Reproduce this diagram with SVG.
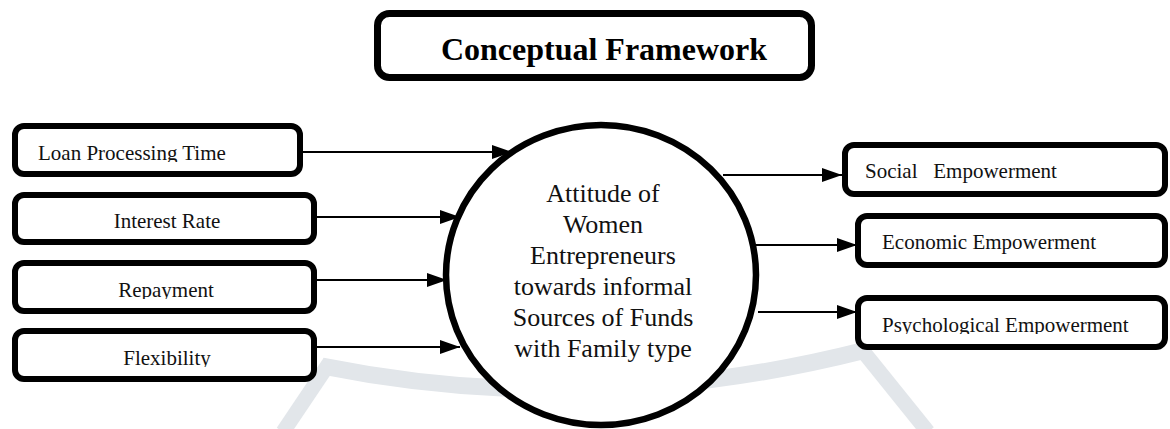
<svg xmlns="http://www.w3.org/2000/svg" width="1170" height="429" viewBox="0 0 1170 429">
  <style>
    .box { fill: #ffffff; stroke: #000000; stroke-width: 6; }
    .lbl { font-family: "Liberation Serif", "Times New Roman", serif; font-size: 21px; fill: #111111; white-space: pre; }
    .core { font-family: "Liberation Serif", "Times New Roman", serif; font-size: 26px; fill: #111111; text-anchor: middle; }
    .title { font-family: "Liberation Serif", "Times New Roman", serif; font-size: 32px; font-weight: bold; fill: #000000; text-anchor: middle; }
    .link { stroke: #000000; stroke-width: 2; fill: none; marker-end: url(#arrow); }
    .mark { stroke: #e2e6ea; fill: none; stroke-linecap: butt; }
  </style>
  <defs>
    <marker id="arrow" markerUnits="userSpaceOnUse" markerWidth="20" markerHeight="14" refX="20" refY="7" orient="auto">
      <path d="M0,0 L20,7 L0,14 Z" fill="#000000"/>
    </marker>
    <clipPath id="clipLoan"><rect x="20" y="130" width="270" height="32"/></clipPath>
    <clipPath id="clipRepay"><rect x="20" y="267" width="290" height="32"/></clipPath>
    <clipPath id="clipFlex"><rect x="20" y="335" width="290" height="32"/></clipPath>
    <clipPath id="clipPsych"><rect x="862" y="302" width="300" height="32"/></clipPath>
  </defs>

  <rect width="1170" height="429" fill="#ffffff"/>

  <!-- faint background emblem -->
  <g id="emblem">
    <path class="mark" stroke-width="17" d="M 322 366 Q 590 420 866 350"/>
    <path class="mark" stroke-width="15" d="M 330 362 L 283 432"/>
    <path class="mark" stroke-width="15" d="M 862 350 L 928 432"/>
  </g>

  <!-- arrows -->
  <g id="connectors">
    <path class="link" d="M 303 152 L 512 152"/>
    <path class="link" d="M 317 217 L 460 217"/>
    <path class="link" d="M 317 280 L 447 280"/>
    <path class="link" d="M 317 347 L 460 347"/>
    <path class="link" d="M 723 175 L 842 175"/>
    <path class="link" d="M 747 245 L 857 245"/>
    <path class="link" d="M 758 312 L 857 312"/>
  </g>

  <g id="title">
    <rect x="377.5" y="13.5" width="434" height="64" rx="12" fill="#ffffff" stroke="#000000" stroke-width="7"/>
    <text class="title" x="604" y="60">Conceptual Framework</text>
  </g>

  <g id="loan-processing-time">
    <rect class="box" x="15" y="126" width="285" height="48" rx="9"/>
    <text class="lbl" x="38" y="160" clip-path="url(#clipLoan)">Loan Processing Time</text>
  </g>

  <g id="interest-rate">
    <rect class="box" x="15" y="195" width="299" height="47" rx="9"/>
    <text class="lbl" x="167" y="228" text-anchor="middle">Interest Rate</text>
  </g>

  <g id="repayment">
    <rect class="box" x="15" y="263" width="299" height="48" rx="9"/>
    <text class="lbl" x="166" y="297" text-anchor="middle" clip-path="url(#clipRepay)">Repayment</text>
  </g>

  <g id="flexibility">
    <rect class="box" x="15" y="331" width="299" height="48" rx="9"/>
    <text class="lbl" x="167" y="365" text-anchor="middle" clip-path="url(#clipFlex)">Flexibility</text>
  </g>

  <g id="attitude">
    <ellipse cx="601" cy="275" rx="155" ry="150" fill="#ffffff" stroke="#000000" stroke-width="6.5"/>
    <text class="core" x="603" y="202">Attitude of</text>
    <text class="core" x="603" y="233">Women</text>
    <text class="core" x="603" y="264">Entrepreneurs</text>
    <text class="core" x="603" y="295">towards informal</text>
    <text class="core" x="603" y="326">Sources of Funds</text>
    <text class="core" x="603" y="357">with Family type</text>
  </g>

  <g id="social-empowerment">
    <rect class="box" x="845" y="145" width="320" height="49" rx="9"/>
    <text class="lbl" x="865" y="178">Social   Empowerment</text>
  </g>

  <g id="economic-empowerment">
    <rect class="box" x="858" y="216" width="307" height="49" rx="9"/>
    <text class="lbl" x="882" y="249">Economic Empowerment</text>
  </g>

  <g id="psychological-empowerment">
    <rect class="box" x="858" y="298" width="307" height="49" rx="9"/>
    <text class="lbl" x="882" y="332" clip-path="url(#clipPsych)">Psychological Empowerment</text>
  </g>
</svg>
